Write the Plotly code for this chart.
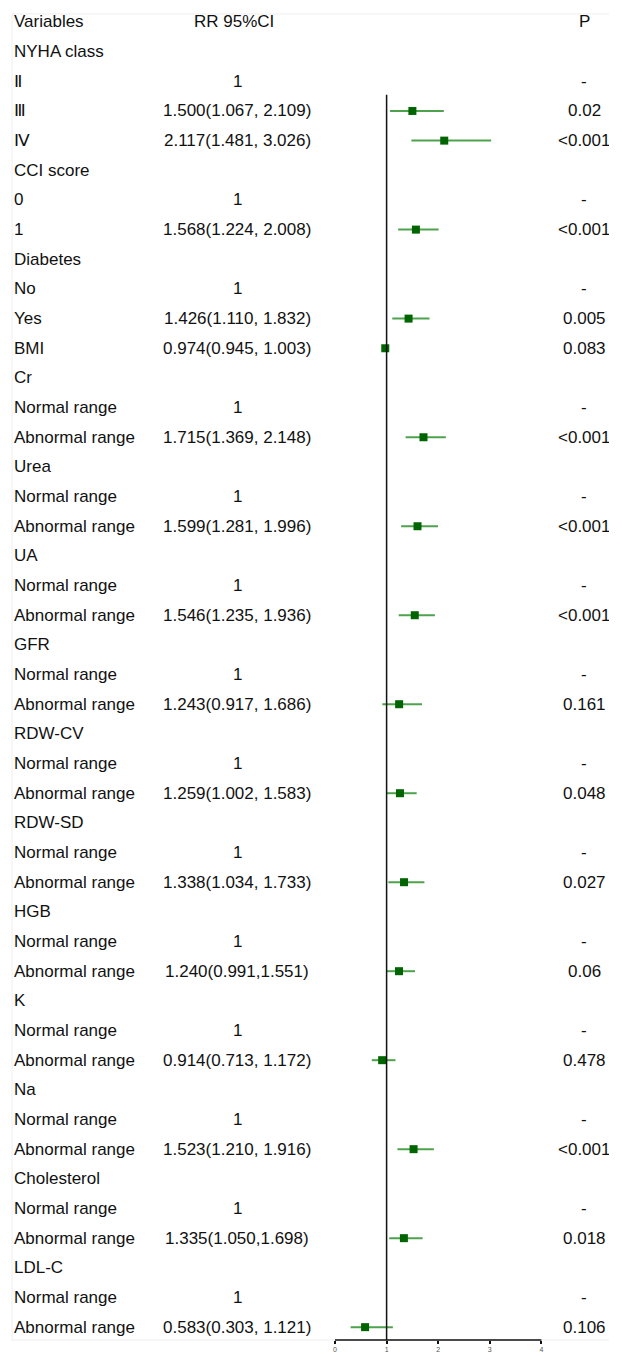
import numpy as np
import plotly.graph_objects as go

nan = np.nan
labels = ["NYHA class", "Ⅱ", "Ⅲ", "Ⅳ", "CCI score", "0", "1", "Diabetes", "No", "Yes", "BMI",
          "Cr", "Normal range", "Abnormal range", "Urea", "Normal range", "Abnormal range",
          "UA", "Normal range", "Abnormal range", "GFR", "Normal range", "Abnormal range",
          "RDW-CV", "Normal range", "Abnormal range", "RDW-SD", "Normal range", "Abnormal range",
          "HGB", "Normal range", "Abnormal range", "K", "Normal range", "Abnormal range",
          "Na", "Normal range", "Abnormal range", "Cholesterol", "Normal range", "Abnormal range",
          "LDL-C", "Normal range", "Abnormal range"]
rr_text = ["", "1", "1.500(1.067, 2.109)", "2.117(1.481, 3.026)", "", "1", "1.568(1.224, 2.008)",
           "", "1", "1.426(1.110, 1.832)", "0.974(0.945, 1.003)",
           "", "1", "1.715(1.369, 2.148)", "", "1", "1.599(1.281, 1.996)",
           "", "1", "1.546(1.235, 1.936)", "", "1", "1.243(0.917, 1.686)",
           "", "1", "1.259(1.002, 1.583)", "", "1", "1.338(1.034, 1.733)",
           "", "1", "1.240(0.991,1.551)", "", "1", "0.914(0.713, 1.172)",
           "", "1", "1.523(1.210, 1.916)", "", "1", "1.335(1.050,1.698)",
           "", "1", "0.583(0.303, 1.121)"]
p_text = ["", "-", "0.02", "<0.001", "", "-", "<0.001", "", "-", "0.005", "0.083",
          "", "-", "<0.001", "", "-", "<0.001", "", "-", "<0.001", "", "-", "0.161",
          "", "-", "0.048", "", "-", "0.027", "", "-", "0.06", "", "-", "0.478",
          "", "-", "<0.001", "", "-", "0.018", "", "-", "0.106"]
est = [nan, nan, 1.500, 2.117, nan, nan, 1.568, nan, nan, 1.426, 0.974,
       nan, nan, 1.715, nan, nan, 1.599, nan, nan, 1.546, nan, nan, 1.243,
       nan, nan, 1.259, nan, nan, 1.338, nan, nan, 1.240, nan, nan, 0.914,
       nan, nan, 1.523, nan, nan, 1.335, nan, nan, 0.583]
lo = [nan, nan, 1.067, 1.481, nan, nan, 1.224, nan, nan, 1.110, 0.945,
      nan, nan, 1.369, nan, nan, 1.281, nan, nan, 1.235, nan, nan, 0.917,
      nan, nan, 1.002, nan, nan, 1.034, nan, nan, 0.991, nan, nan, 0.713,
      nan, nan, 1.210, nan, nan, 1.050, nan, nan, 0.303]
hi = [nan, nan, 2.109, 3.026, nan, nan, 2.008, nan, nan, 1.832, 1.003,
      nan, nan, 2.148, nan, nan, 1.996, nan, nan, 1.936, nan, nan, 1.686,
      nan, nan, 1.583, nan, nan, 1.733, nan, nan, 1.551, nan, nan, 1.172,
      nan, nan, 1.916, nan, nan, 1.698, nan, nan, 1.121]
tick_vals = [0, 1, 2, 3, 4]
tick_text = ["0", "1", "2", "3", "4"]

rows = list(range(1, len(labels) + 1))
est_a = np.array(est)
lo_a = np.array(lo)
hi_a = np.array(hi)

# page body adds an 8px margin; figure drawn in shifted coordinates and sized to avoid scrollbars
OFF = 8
W, H = 617 - OFF, 1361 - 2 * OFF
FONT = "Liberation Sans, Arial, sans-serif"
FS = 17
TXT = "#111111"

PLOT_H = 1343 - OFF
ROW0 = 22 - OFF
ROWH = 29.73
Y_TOP = -ROW0 / ROWH
Y_BOT = (PLOT_H - ROW0) / ROWH
X0PX = 335 - OFF
UNIT = 51.6
P_X = 584

fig = go.Figure()
fig.add_trace(go.Scatter(
    x=est_a, y=rows, mode="markers",
    marker=dict(symbol="square", size=8, color="#006400"),
    error_x=dict(type="data", symmetric=False, array=hi_a - est_a, arrayminus=est_a - lo_a,
                 color="rgba(34,139,34,0.8)", thickness=2, width=0),
    showlegend=False, hoverinfo="skip"))

ann = []
def add_text(x, y, text, anchor):
    ann.append(dict(x=(x - OFF) / W, xref="paper", y=y, yref="y", text=text, showarrow=False,
                    xanchor=anchor, yanchor="middle", font=dict(family=FONT, size=FS, color=TXT)))

add_text(12, 0, "Variables", "left")
add_text(234, 0, "RR 95%CI", "center")
add_text(P_X, 0, "P", "center")
for i, r in enumerate(rows):
    add_text(12, r, labels[i], "left")
    if rr_text[i]:
        add_text(237, r, rr_text[i], "center")
    if p_text[i]:
        add_text(P_X, r, p_text[i], "center")

shapes = [
    dict(type="line", xref="x", yref="y", x0=1, x1=1, y0=2.45, y1=Y_BOT,
         line=dict(color="#111111", width=1.5)),
    dict(type="line", xref="x", yref="paper", x0=0, x1=4, y0=0, y1=0,
         line=dict(color="#111111", width=1.5)),
    dict(type="rect", xref="paper", yref="paper", x0=(12 - OFF) / W, x1=1.0, y0=0,
         y1=1 - (14 - OFF) / PLOT_H, line=dict(color="#eeeeee", width=1), layer="below"),
]

fig.update_layout(
    width=W, height=H, margin=dict(l=0, r=0, t=0, b=H - PLOT_H),
    paper_bgcolor="white", plot_bgcolor="white",
    annotations=ann, shapes=shapes,
    xaxis=dict(range=[-X0PX / UNIT, (W - X0PX) / UNIT], tickvals=tick_vals, ticktext=tick_text,
               ticks="outside", ticklen=3, tickcolor="#111111", tickwidth=1.5,
               showgrid=False, zeroline=False, showline=False,
               tickfont=dict(family=FONT, size=7, color="#555555"), fixedrange=True),
    yaxis=dict(range=[Y_BOT, Y_TOP], visible=False, fixedrange=True),
)
fig.write_html("out.html")
